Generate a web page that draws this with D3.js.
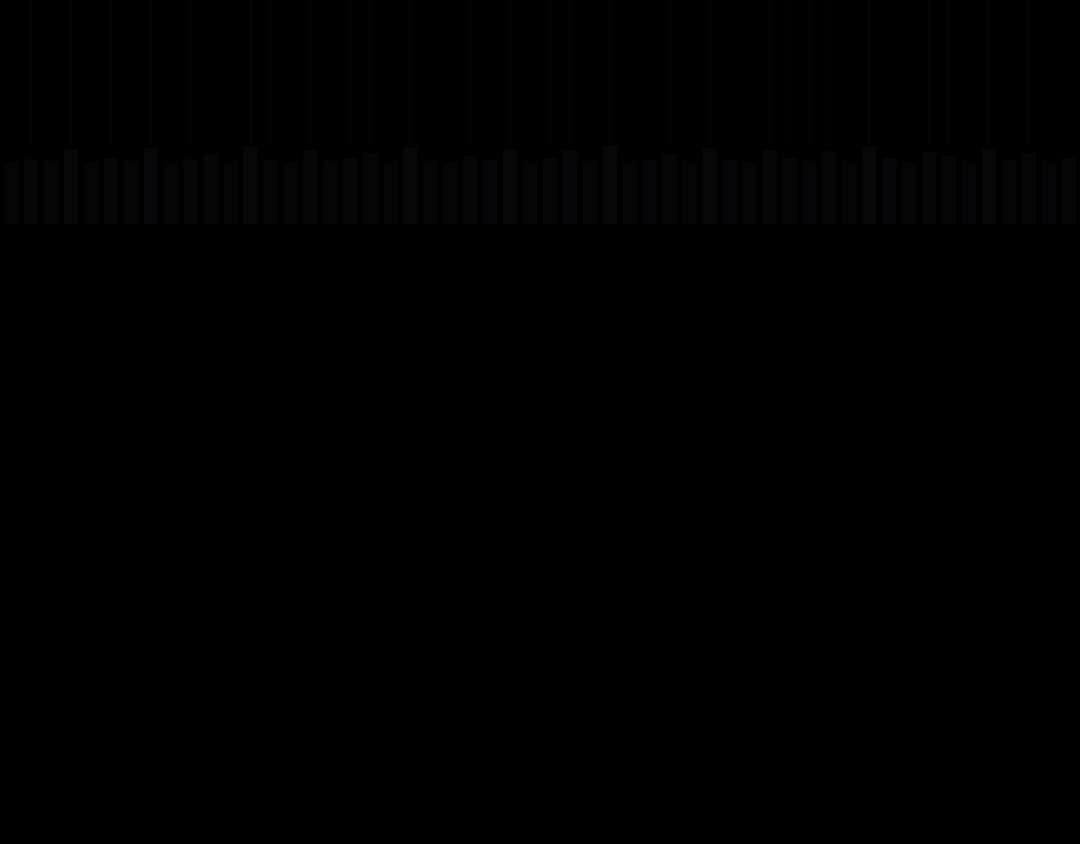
<!DOCTYPE html>
<html>
<head>
<meta charset="utf-8">
<script src="https://cdn.jsdelivr.net/npm/d3@7"></script>
<style>
  html, body { margin: 0; padding: 0; background: #000; }
  svg { display: block; }
</style>
</head>
<body>
<svg id="chart" width="1080" height="844"></svg>
<script>
let svg = d3.select("#chart");

let width = 1080;
let height = 844;
let band_top = 145;
let band_bottom = 224;

// one column per stripe, left to right
let columns = d3.range(1, 55).map((i) => "c" + i);
// stripe height in the dark band (0-100)
let band_values = [
  78, 82, 80, 95, 78, 84, 80, 96, 80, 82, 88, 80, 98, 82, 78, 94, 80, 84,
  90, 80, 97, 80, 78, 86, 82, 95, 80, 84, 93, 80, 99, 80, 82, 88, 80, 96,
  81, 78, 94, 84, 80, 92, 80, 98, 84, 78, 91, 86, 80, 95, 82, 90, 80, 84
];
// brightness of each stripe (0-1)
let band_shade = [
  0.3, 0.7, 0.5, 0.8, 0.3, 0.6, 0.5, 0.8, 0.4, 0.6, 0.7, 0.4, 0.9, 0.5, 0.3, 0.7, 0.5, 0.6,
  0.7, 0.4, 0.8, 0.5, 0.3, 0.6, 0.5, 0.8, 0.4, 0.6, 0.7, 0.5, 0.9, 0.4, 0.5, 0.7, 0.4, 0.8,
  0.5, 0.3, 0.7, 0.6, 0.5, 0.7, 0.4, 0.8, 0.6, 0.3, 0.7, 0.6, 0.4, 0.8, 0.5, 0.7, 0.4, 0.6
];
// faint hairlines running down from the top edge
let hairline_shade = [
  0.3, 0.6, 0.2, 0.5, 0.4, 0.7, 0.3, 0.5, 0.2, 0.6, 0.4, 0.3, 0.7, 0.4, 0.2, 0.5, 0.3, 0.6,
  0.5, 0.2, 0.6, 0.4, 0.3, 0.5, 0.4, 0.7, 0.2, 0.5, 0.6, 0.3, 0.7, 0.3, 0.4, 0.6, 0.3, 0.5,
  0.4, 0.2, 0.6, 0.5, 0.3, 0.6, 0.3, 0.7, 0.4, 0.2, 0.5, 0.6, 0.3, 0.6, 0.4, 0.5, 0.3, 0.4
];

let x_scale = d3.scaleBand()
  .domain(columns)
  .range([0, width])
  .paddingInner(0.3)
  .paddingOuter(0.2);
let y_scale = d3.scaleLinear()
  .domain([0, 100])
  .range([band_bottom, band_top]);
let shade = d3.scaleLinear()
  .domain([0, 1])
  .range(["#020203", "#08080b"]);
let hair_shade = d3.scaleLinear()
  .domain([0, 1])
  .range(["#000000", "#050506"]);

svg.append("rect")
  .attr("width", width)
  .attr("height", height)
  .attr("fill", "#000");

// hairlines from the top down to the band
svg.append("g")
  .attr("class", "hairlines")
  .selectAll("rect")
  .data(columns)
  .enter().append("rect")
    .attr("x", (d) => x_scale(d) + x_scale.bandwidth() / 2 - 1)
    .attr("y", 0)
    .attr("width", 2)
    .attr("height", y_scale(100))
    .attr("fill", (d, i) => hair_shade(hairline_shade[i]));

// dark stripes in the band
svg.append("g")
  .attr("class", "stripes")
  .selectAll("rect")
  .data(columns)
  .enter().append("rect")
    .attr("x", (d) => x_scale(d))
    .attr("y", (d, i) => y_scale(band_values[i]))
    .attr("width", x_scale.bandwidth())
    .attr("height", (d, i) => y_scale(0) - y_scale(band_values[i]))
    .attr("fill", (d, i) => shade(band_shade[i]));
</script>
</body>
</html>
